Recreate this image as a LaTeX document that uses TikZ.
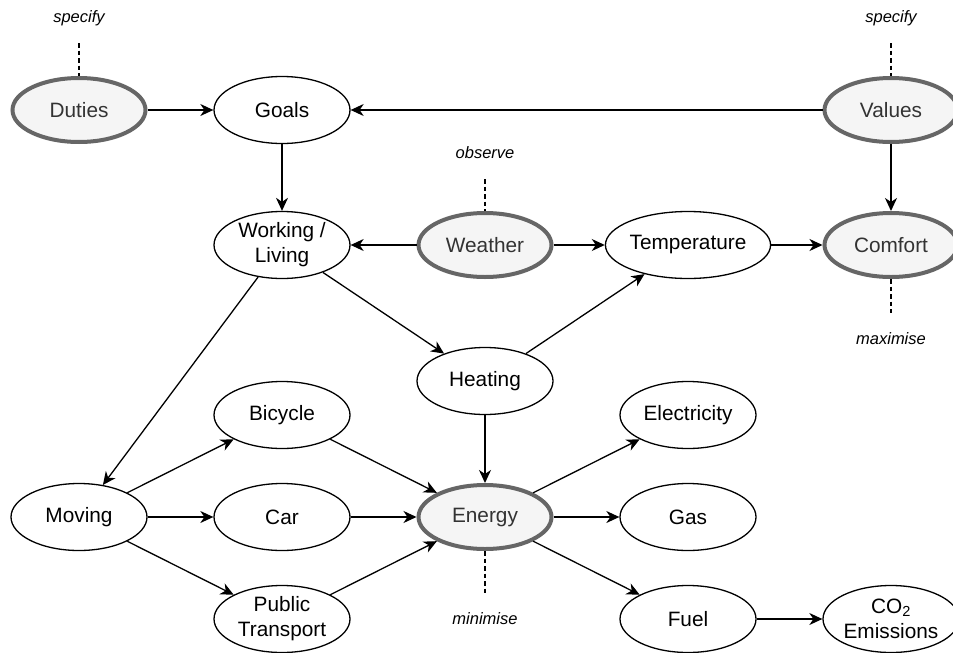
\documentclass[tikz,border=0pt]{standalone}
\usepackage{fontspec}
\setmainfont{Liberation Sans}
\usetikzlibrary{shapes.geometric,arrows.meta}
\definecolor{keyborder}{HTML}{666666}
\definecolor{keyfill}{HTML}{F5F5F5}
\definecolor{keytext}{HTML}{333333}
\begin{document}
\begin{tikzpicture}[x=1pt,y=-1pt,
  basenode/.style={ellipse, inner sep=0pt, align=center, font=\fontsize{20.8}{25}\selectfont},
  plainnode/.style={basenode, draw=black, line width=1.3pt, fill=white, minimum width=136pt, minimum height=67pt},
  keynode/.style={basenode, draw=keyborder, line width=4pt, fill=keyfill, text=keytext, minimum width=133pt, minimum height=64pt},
  conn/.style={-{Stealth[length=13pt,width=12pt,inset=4pt]}, line width=1.3pt},
  obsline/.style={dash pattern=on 4.5pt off 3pt, line width=1.6pt},
  lab/.style={font=\fontsize{16.5}{19}\selectfont\itshape, inner sep=0pt}
]
\useasboundingbox (0,0) rectangle (953,653);

% nodes
\node[keynode]   (duties)  at (79,110)  {Duties};
\node[plainnode] (goals)   at (282,110) {Goals};
\node[keynode]   (values)  at (891,110) {Values};

\node[plainnode] (working) at (282,245) {Working /\\Living};
\node[keynode]   (weather) at (485,245) {Weather};
\node[plainnode] (temp)    at (688,245) {Temperature};
\node[keynode]   (comfort) at (891,245) {Comfort};

\node[plainnode] (heating) at (485,381) {Heating};
\node[plainnode] (bicycle) at (282,415) {Bicycle};
\node[plainnode] (elec)    at (688,415) {Electricity};

\node[plainnode] (moving)  at (79,517)  {Moving};
\node[plainnode] (car)     at (282,517) {Car};
\node[keynode]   (energy)  at (485,517) {Energy};
\node[plainnode] (gas)     at (688,517) {Gas};

\node[plainnode] (public)  at (282,619) {Public\\Transport};
\node[plainnode] (fuel)    at (688,619) {Fuel};
\node[plainnode] (co2)     at (891,619) {CO\textsubscript{2}\\Emissions};

% labels
\node[lab] (lspec1) at (79,18)  {specify};
\node[lab] (lspec2) at (891,18) {specify};
\node[lab] (lobs)   at (485,153) {observe};
\node[lab] (lmax)   at (891,339) {maximise};
\node[lab] (lmin)   at (485,619) {minimise};

\coordinate (d1) at (79,43);
\coordinate (d2) at (891,43);
\coordinate (d3) at (485,179);
\coordinate (d4) at (891,313);
\coordinate (d5) at (485,593);

% dashed markers
\draw[obsline] (d1) -- (duties.north);
\draw[obsline] (d2) -- (values.north);
\draw[obsline] (d3) -- (weather.north);
\draw[obsline] (comfort.south) -- (d4);
\draw[obsline] (energy.south) -- (d5);

% connectors
\draw[conn] (duties) -- (goals);
\draw[conn] (values) -- (goals);
\draw[conn] (goals) -- (working);
\draw[conn] (values) -- (comfort);
\draw[conn] (weather) -- (working);
\draw[conn] (weather) -- (temp);
\draw[conn] (temp) -- (comfort);
\draw[conn] (working) -- (heating);
\draw[conn] (working) -- (moving);
\draw[conn] (heating) -- (temp);
\draw[conn] (heating) -- (energy);
\draw[conn] (moving) -- (bicycle);
\draw[conn] (moving) -- (car);
\draw[conn] (moving) -- (public);
\draw[conn] (bicycle) -- (energy);
\draw[conn] (car) -- (energy);
\draw[conn] (public) -- (energy);
\draw[conn] (energy) -- (elec);
\draw[conn] (energy) -- (gas);
\draw[conn] (energy) -- (fuel);
\draw[conn] (fuel) -- (co2);
\end{tikzpicture}
\end{document}
